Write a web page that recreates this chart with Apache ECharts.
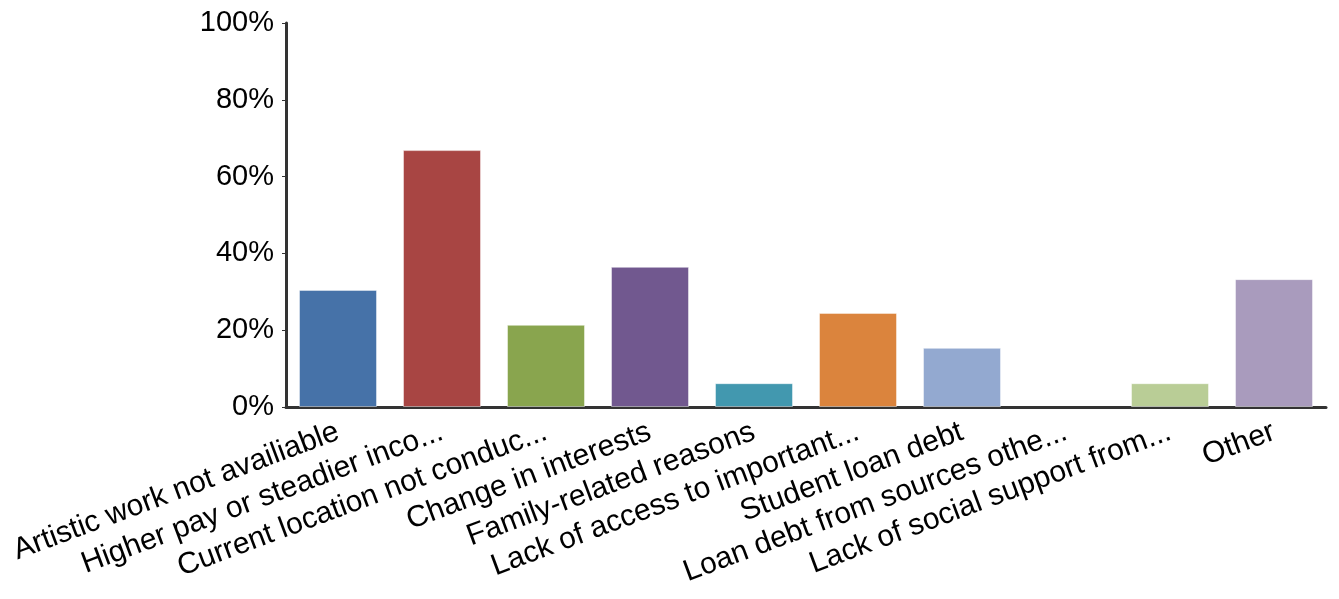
<!DOCTYPE html>
<html>
<head>
<meta charset="utf-8">
<script src="https://cdn.jsdelivr.net/npm/echarts@6/dist/echarts.min.js"></script>
<style>
html,body{margin:0;padding:0;background:#fff;}
#chart{width:1339px;height:599px;}
</style>
</head>
<body>
<div id="chart"></div>
<script>
const categories = [
  "Artistic work not availiable",
  "Higher pay or steadier inco...",
  "Current location not conduc...",
  "Change in interests",
  "Family-related reasons",
  "Lack of access to important...",
  "Student loan debt",
  "Loan debt from sources othe...",
  "Lack of social support from...",
  "Other"
];
const values = [30.5, 66.9, 21.4, 36.5, 6.2, 24.5, 15.4, 0, 6.2, 33.3];
const colors = ["#4672a8", "#a84543", "#89a54e", "#71588f", "#4298af", "#db843d", "#93a9d0", "#a47d7c", "#b9cd96", "#a99bbd"];
const yTicks = [0, 20, 40, 60, 80, 100];

const chart = echarts.init(document.getElementById('chart'), null, {renderer: 'canvas'});
const font = '"Liberation Sans", Arial, Helvetica, sans-serif';
chart.setOption({
  animation: false,
  grid: {left: 286, right: 13, top: 23, bottom: 192, containLabel: false},
  xAxis: {
    type: 'category',
    data: categories,
    axisLine: {lineStyle: {color: '#333', width: 3}},
    axisTick: {alignWithLabel: true, length: 5, lineStyle: {color: '#777', width: 1}},
    axisLabel: {
      interval: 0, rotate: 20.5, margin: 24,
      color: '#000', fontSize: 30, fontFamily: font
    }
  },
  yAxis: {
    type: 'value',
    min: yTicks[0], max: yTicks[yTicks.length - 1], interval: 20,
    axisLine: {show: true, lineStyle: {color: '#333', width: 3}},
    axisTick: {show: true, length: 4, lineStyle: {color: '#333', width: 1}},
    splitLine: {show: false},
    axisLabel: {
      color: '#000', fontSize: 29, fontFamily: font, margin: 12,
      formatter: v => v + '%'
    }
  },
  series: [{
    type: 'bar',
    barCategoryGap: '25%',
    data: values.map((v, i) => ({
      value: v,
      itemStyle: {color: colors[i], borderColor: 'rgba(255,255,255,0.45)', borderWidth: v > 0 ? 1 : 0}
    }))
  }]
});
</script>
</body>
</html>
